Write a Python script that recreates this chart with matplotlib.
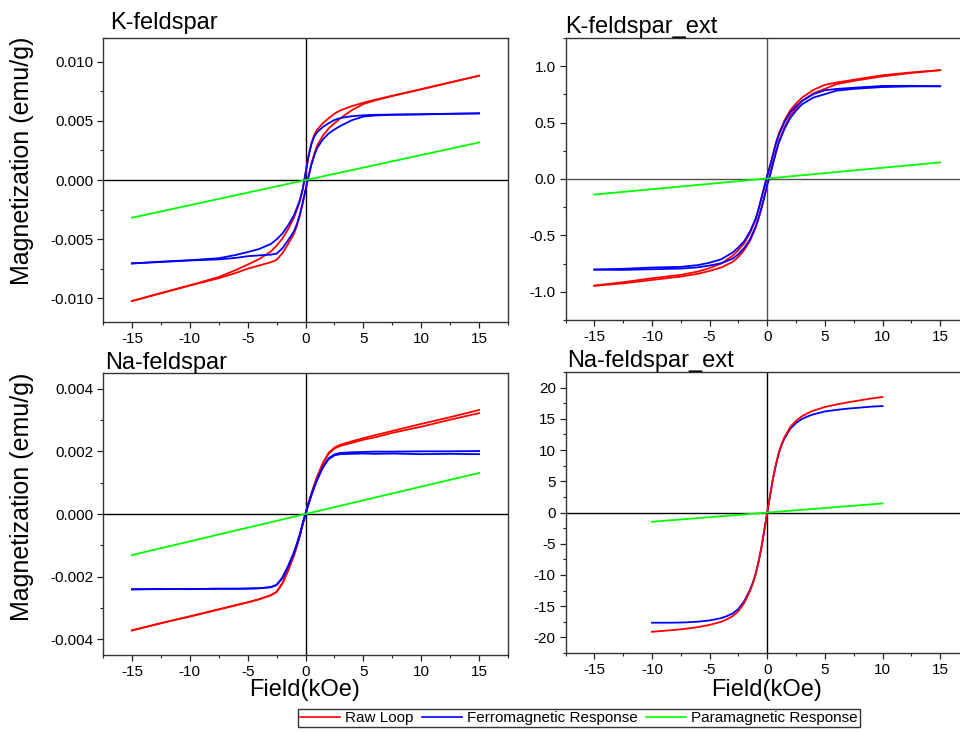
import matplotlib
matplotlib.use("Agg")
import matplotlib.pyplot as plt
from matplotlib.ticker import MultipleLocator, FormatStrFormatter
from matplotlib.lines import Line2D

plt.rcParams['font.family'] = ['Liberation Sans', 'DejaVu Sans']
plt.rcParams['axes.unicode_minus'] = False

# ---------------- data ----------------
# field grid (kOe) for descending / ascending branches
H_DESC = [15, 12.5, 10, 7.5, 6, 5, 4, 3, 2.5, 2, 1.5, 1, 0.75, 0.5, 0.25, 0,
          -0.25, -0.5, -0.75, -1, -1.5, -2, -2.5, -3, -4, -5, -6, -7.5, -10, -12.5, -15]
H_ASC = H_DESC[::-1]

# K-feldspar (values in 1e-3 emu/g)
k_raw_desc = [8.81, 8.25, 7.68, 7.12, 6.78, 6.53, 6.24, 5.88, 5.6, 5.22, 4.8, 4.25, 3.8, 3.1, 1.98, 0.56,
              -0.85, -1.84, -2.54, -3.2, -4.15, -4.95, -5.55, -6.05, -6.68, -7.15, -7.6, -8.2, -8.9, -9.55, -10.23]
k_raw_asc = [-10.23, -9.58, -8.92, -8.3, -7.85, -7.5, -7.22, -6.95, -6.75, -6.2, -5.4, -4.55, -3.9, -3.05, -2.0, -0.85,
             0.28, 1.35, 2.2, 2.9, 3.75, 4.35, 4.8, 5.2, 5.9, 6.42, 6.72, 7.1, 7.66, 8.24, 8.81]
k_fer_desc = [5.63, 5.6, 5.56, 5.53, 5.51, 5.47, 5.39, 5.24, 5.07, 4.8, 4.48, 4.04, 3.64, 2.99, 1.93, 0.56,
              -0.8, -1.73, -2.38, -2.99, -3.83, -4.53, -5.02, -5.41, -5.83, -6.09, -6.33, -6.61, -6.78, -6.9, -7.05]
k_fer_asc = [-7.05, -6.93, -6.8, -6.71, -6.58, -6.44, -6.37, -6.31, -6.22, -5.78, -5.08, -4.34, -3.74, -2.94, -1.95, -0.85,
             0.23, 1.24, 2.04, 2.69, 3.43, 3.93, 4.27, 4.56, 5.05, 5.36, 5.45, 5.51, 5.54, 5.59, 5.63]
k_para_H = [-15, 15]
k_para = [-3.19, 3.17]

# K-feldspar_ext (emu/g)
ke_raw_desc = [0.965, 0.945, 0.92, 0.88, 0.855, 0.835, 0.79, 0.72, 0.67, 0.61, 0.52, 0.40, 0.32, 0.22, 0.12, 0.03,
               -0.07, -0.17, -0.27, -0.36, -0.48, -0.57, -0.63, -0.68, -0.75, -0.79, -0.82, -0.85, -0.88, -0.915, -0.945]
ke_raw_asc = [-0.947, -0.925, -0.895, -0.865, -0.84, -0.815, -0.785, -0.735, -0.69, -0.63, -0.55, -0.43, -0.35, -0.26, -0.16, -0.05,
              0.04, 0.14, 0.24, 0.33, 0.46, 0.56, 0.63, 0.69, 0.76, 0.80, 0.84, 0.87, 0.91, 0.94, 0.965]
ke_fer_desc = [0.822, 0.826, 0.825, 0.809, 0.798, 0.787, 0.752, 0.691, 0.646, 0.591, 0.506, 0.39, 0.313, 0.215, 0.118, 0.03,
               -0.068, -0.165, -0.263, -0.35, -0.466, -0.551, -0.606, -0.651, -0.712, -0.742, -0.763, -0.779, -0.785, -0.796, -0.802]
ke_fer_asc = [-0.804, -0.806, -0.8, -0.794, -0.783, -0.767, -0.747, -0.706, -0.666, -0.611, -0.536, -0.42, -0.343, -0.255, -0.158, -0.05,
              0.038, 0.135, 0.233, 0.32, 0.446, 0.541, 0.606, 0.661, 0.722, 0.752, 0.783, 0.799, 0.815, 0.821, 0.822]
ke_para_H = [-15, 15]
ke_para = [-0.138, 0.147]

# Na-feldspar (values in 1e-3 emu/g)
n_raw_desc = [3.32, 3.09, 2.875, 2.65, 2.515, 2.42, 2.32, 2.21, 2.12, 1.955, 1.63, 1.19, 0.926, 0.644, 0.342, 0.02,
              -0.322, -0.724, -1.036, -1.33, -1.81, -2.225, -2.49, -2.6, -2.72, -2.82, -2.905, -3.05, -3.265, -3.49, -3.71]
n_raw_asc = [-3.72, -3.48, -3.275, -3.04, -2.915, -2.82, -2.72, -2.59, -2.48, -2.205, -1.79, -1.31, -1.016, -0.704, -0.352, -0.02,
             0.322, 0.624, 0.906, 1.17, 1.61, 1.925, 2.09, 2.17, 2.27, 2.37, 2.445, 2.59, 2.785, 3.01, 3.22]
n_fer_desc = [2.01, 2.0, 2.0, 1.99, 1.99, 1.98, 1.97, 1.95, 1.9, 1.78, 1.5, 1.1, 0.86, 0.6, 0.32, 0.02,
              -0.3, -0.68, -0.97, -1.24, -1.68, -2.05, -2.27, -2.34, -2.37, -2.38, -2.38, -2.39, -2.39, -2.4, -2.4]
n_fer_asc = [-2.41, -2.39, -2.4, -2.38, -2.39, -2.38, -2.37, -2.33, -2.26, -2.03, -1.66, -1.22, -0.95, -0.66, -0.33, -0.02,
             0.3, 0.58, 0.84, 1.08, 1.48, 1.75, 1.87, 1.91, 1.92, 1.93, 1.92, 1.93, 1.91, 1.92, 1.91]
n_para_H = [-15, 15]
n_para = [-1.31, 1.31]

# Na-feldspar_ext (emu/g)
H_EXT = [-10, -9, -8, -7, -6, -5, -4, -3.5, -3, -2.5, -2, -1.5, -1.25, -1, -0.75, -0.5, -0.25, 0,
         0.25, 0.5, 0.75, 1, 1.25, 1.5, 2, 2.5, 3, 3.5, 4, 5, 6, 7, 8, 9, 10]
ne_raw = [-19.1, -18.95, -18.8, -18.6, -18.35, -18.0, -17.5, -17.1, -16.6, -15.8, -14.5, -12.6, -11.4, -9.9, -7.9, -5.6, -2.8, 0,
          2.8, 5.5, 7.7, 9.6, 11.0, 12.1, 13.7, 14.7, 15.4, 15.9, 16.3, 16.9, 17.3, 17.65, 17.95, 18.25, 18.5]
ne_fer = [-17.65, -17.65, -17.64, -17.59, -17.48, -17.28, -16.92, -16.59, -16.17, -15.44, -14.21, -12.38, -11.22, -9.76, -7.79, -5.53, -2.76, 0,
          2.76, 5.43, 7.59, 9.46, 10.82, 11.88, 13.41, 14.34, 14.97, 15.39, 15.72, 16.18, 16.43, 16.64, 16.79, 16.95, 17.05]
ne_para_H = [-10, 10]
ne_para = [-1.48, 1.45]

TITLES = ["K-feldspar", "K-feldspar_ext", "Na-feldspar", "Na-feldspar_ext"]
XTICKS = [-15, -10, -5, 0, 5, 10, 15]
LEGEND_LABELS = ["Raw Loop", "Ferromagnetic Response", "Paramagnetic Response"]

RED, BLUE, GREEN = "#FF0000", "#0000FF", "#00FF00"
MILLI = 1e-3

# ---------------- figure ----------------
W, Hpx = 960, 732
fig = plt.figure(figsize=(W / 100, Hpx / 100), dpi=100)


def add_ax(left, right, top, bottom):
    return fig.add_axes([left / W, 1 - bottom / Hpx, (right - left) / W, (bottom - top) / Hpx])


ax_tl = add_ax(103, 508, 38, 322)
ax_tr = add_ax(565.5, 969, 38, 320)
ax_bl = add_ax(103, 508, 373, 655)
ax_br = add_ax(565.5, 969, 372, 653)

LW = 1.3


def style(ax, ylim, major, minor, fmt, zero_color='black'):
    ax.set_xlim(-17.5, 17.5)
    ax.set_ylim(-ylim, ylim)
    ax.set_xticks(XTICKS)
    ax.xaxis.set_minor_locator(MultipleLocator(2.5))
    ax.yaxis.set_major_locator(MultipleLocator(major))
    ax.yaxis.set_minor_locator(MultipleLocator(minor))
    ax.yaxis.set_major_formatter(FormatStrFormatter(fmt))
    ax.tick_params(which='major', direction='out', length=4, width=0.9, labelsize=11, pad=3, colors='#222222', labelcolor='black')
    ax.tick_params(which='minor', direction='out', length=2.3, width=0.8, colors='#222222')
    for s in ax.spines.values():
        s.set_color('#333333')
        s.set_linewidth(1.0)
    ax.axhline(0, color=zero_color, lw=1.0, zorder=1)
    ax.axvline(0, color=zero_color, lw=1.0, zorder=1)


# K-feldspar
ax = ax_tl
ax.plot(H_DESC, [v * MILLI for v in k_raw_desc], color=RED, lw=LW, zorder=2)
ax.plot(H_ASC, [v * MILLI for v in k_raw_asc], color=RED, lw=LW, zorder=2)
ax.plot(H_DESC, [v * MILLI for v in k_fer_desc], color=BLUE, lw=LW, zorder=3)
ax.plot(H_ASC, [v * MILLI for v in k_fer_asc], color=BLUE, lw=LW, zorder=3)
ax.plot(k_para_H, [v * MILLI for v in k_para], color=GREEN, lw=LW, zorder=4)
style(ax, 0.012, 0.005, 0.0025, '%.3f')

# K-feldspar_ext
ax = ax_tr
ax.plot(H_DESC, ke_raw_desc, color=RED, lw=LW, zorder=2)
ax.plot(H_ASC, ke_raw_asc, color=RED, lw=LW, zorder=2)
ax.plot(H_DESC, ke_fer_desc, color=BLUE, lw=LW, zorder=3)
ax.plot(H_ASC, ke_fer_asc, color=BLUE, lw=LW, zorder=3)
ax.plot(ke_para_H, ke_para, color=GREEN, lw=LW, zorder=4)
style(ax, 1.25, 0.5, 0.25, '%.1f', zero_color='#505050')

# Na-feldspar
ax = ax_bl
ax.plot(H_DESC, [v * MILLI for v in n_raw_desc], color=RED, lw=LW, zorder=2)
ax.plot(H_ASC, [v * MILLI for v in n_raw_asc], color=RED, lw=LW, zorder=2)
ax.plot(H_DESC, [v * MILLI for v in n_fer_desc], color=BLUE, lw=LW, zorder=3)
ax.plot(H_ASC, [v * MILLI for v in n_fer_asc], color=BLUE, lw=LW, zorder=3)
ax.plot(n_para_H, [v * MILLI for v in n_para], color=GREEN, lw=LW, zorder=4)
style(ax, 0.0045, 0.002, 0.001, '%.3f')

# Na-feldspar_ext
ax = ax_br
ax.plot(H_EXT, ne_fer, color=BLUE, lw=LW, zorder=2)
ax.plot(H_EXT, ne_raw, color=RED, lw=LW, zorder=3)
ax.plot(ne_para_H, ne_para, color=GREEN, lw=LW, zorder=4)
style(ax, 22.5, 5, 2.5, '%d')


# titles
def ftext(x, y, s, **kw):
    fig.text(x / W, 1 - y / Hpx, s, **kw)


ftext(110, 29, TITLES[0], fontsize=17, va='baseline', ha='left')
ftext(565, 33, TITLES[1], fontsize=17, va='baseline', ha='left')
ftext(105, 369, TITLES[2], fontsize=17, va='baseline', ha='left')
ftext(567, 367, TITLES[3], fontsize=17, va='baseline', ha='left')

# axis labels
ftext(22, 161, "Magnetization (emu/g)", fontsize=18, rotation=90, ha='center', va='center')
ftext(22, 497, "Magnetization (emu/g)", fontsize=18, rotation=90, ha='center', va='center')
ftext(305, 690, "Field(kOe)", fontsize=17, ha='center', va='center')
ftext(767, 690, "Field(kOe)", fontsize=17, ha='center', va='center')

# legend
handles = [Line2D([], [], color=c, lw=1.2) for c in (RED, BLUE, GREEN)]
leg = fig.legend(handles, LEGEND_LABELS, loc='center', bbox_to_anchor=(579 / W, 1 - 718 / Hpx),
                 ncol=3, fontsize=11, frameon=True, fancybox=False, edgecolor='black',
                 handlelength=2.6, handletextpad=0.35, columnspacing=0.55, borderpad=0.15,
                 borderaxespad=0)
leg.get_frame().set_linewidth(1.0)

fig.savefig("out.png", dpi=100)
